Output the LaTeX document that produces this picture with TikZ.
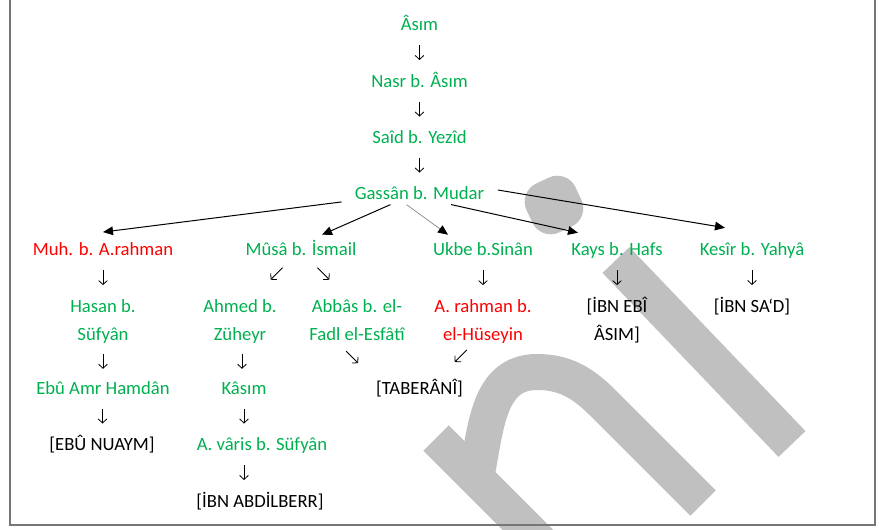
\documentclass[tikz,border=0pt]{standalone}
\usepackage{fontspec}
\setmainfont{Carlito}
\usetikzlibrary{arrows.meta,calc}
\definecolor{ravigreen}{RGB}{0,176,80}
\definecolor{ravired}{RGB}{255,0,0}
\definecolor{filigran}{RGB}{192,192,192}
\definecolor{cerceve}{RGB}{118,118,118}
\definecolor{okgri}{RGB}{130,130,130}
\newcommand{\ikisatir}[2]{\rule{0pt}{11pt}#1\\#2\rule[-2pt]{0pt}{2pt}}
\begin{document}
\begin{tikzpicture}[x=0.75pt,y=-0.75pt,
		ravi/.style={font=\fontsize{14}{21}\selectfont,inner sep=0pt,text=ravigreen},
		tek/.style={ravi,text height=11pt,text depth=2pt,anchor=base},
		iki/.style={ravi,align=center,anchor=north},
		zayif/.style={text=ravired},
		kaynak/.style={text=black},
		ok/.style={line width=0.75pt,-{Triangle[length=7.5pt,width=6.5pt]}},
		tick/.style={line width=0.6pt,-{Straight Barb[length=3pt,width=6.5pt]}},
		tickdown/.style={tick,to path={($(\tikztostart)!#1!(\tikztotarget)$) ++(0,-7.5) -- ++(0,15)}},
		tickdown/.default=0.5,
		ticksw/.style={tick,to path={($(\tikztostart)!#1!(\tikztotarget)$) ++(6,-6) -- ++(-12,12)}},
		ticksw/.default=0.5,
		tickse/.style={tick,to path={($(\tikztostart)!#1!(\tikztotarget)$) ++(-6,-6) -- ++(12,12)}},
		tickse/.default=0.5]
	\useasboundingbox (0,0) rectangle (879,529);
	\begin{scope}
		\clip (0,0) rectangle (879,529);
		\fill[filigran,rounded corners=15pt,rotate around={25:(554,205)}] (527,178) rectangle (581,232);
		\draw[filigran,line width=28pt] (616,260) -- (792,444);
		\draw[filigran,line width=27pt] (436,438) -- (560,562);
		\draw[filigran,line width=27pt] (476,478) .. controls (486,430) and (487,372) .. (537,372) .. controls (565,372) and (583,383) .. (603,403) -- (703,503);
	\end{scope}
	\draw[cerceve,line width=1.1pt] (10,0) -- (10,525) -- (875,525) -- (875,0);
	
	\node[tek] (asim) at (419.5,30) {Âsım};
	\node[tek] (nasr) at (419.5,87) {Nasr b. Âsım};
	\node[tek] (said) at (419.5,143) {Saîd b. Yezîd};
	\node[tek] (gassan) at (419.5,199) {Gassân b. Mudar};
	\node[tek,zayif] (muh) at (103,255) {Muh. b. A.rahman};
	\node[tek] (musa) at (301,255) {Mûsâ b. İsmail};
	\node[tek] (ukbe) at (483,255) {Ukbe b.Sinân};
	\node[tek] (kays) at (617,255) {Kays b. Hafs};
	\node[tek] (kesir) at (752,255) {Kesîr b. Yahyâ};
	\node[iki] (hasan) at (103,297.3) {\ikisatir{Hasan b.}{Süfyân}};
	\node[iki] (ahmed) at (240,297.3) {\ikisatir{Ahmed b.}{Züheyr}};
	\node[iki] (abbas) at (357,297.3) {\ikisatir{Abbâs b. el-}{Fadl el-Esfâtî}};
	\node[iki,zayif] (arahman) at (483,297.3) {\ikisatir{A. rahman b.}{el-Hüseyin}};
	\node[iki,kaynak] (ibnebiasim) at (617,297.3) {\ikisatir{[İBN EBÎ}{ÂSIM]}};
	\node[tek,kaynak] (ibnsad) at (752,312) {[İBN SA‘D]};
	\node[tek] (hamdan) at (103,394) {Ebû Amr Hamdân};
	\node[tek] (kasim) at (244,394) {Kâsım};
	\node[tek,kaynak] (taberani) at (419.5,394) {[TABERÂNÎ]};
	\node[tek,kaynak] (ebunuaym) at (102,450) {[EBÛ NUAYM]};
	\node[tek] (avaris) at (262,450) {A. vâris b. Süfyân};
	\node[tek,kaynak] (abdilberr) at (260,507) {[İBN ABDİLBERR]};
	
	\draw[ok] ([xshift=-9.75pt]gassan.south west) -- ([yshift=6pt]muh.north);
	\draw[ok] ([xshift=27pt,yshift=-2pt]gassan.south west) -- ([xshift=15.75pt,yshift=4pt]musa.north);
	\draw[okgri,line width=0.5pt,-{Triangle[length=7.5pt,width=6.5pt,color=black]}] ([xshift=39pt,yshift=-2pt]gassan.south west) -- ([xshift=-26.25pt,yshift=4pt]ukbe.north);
	\draw[ok] ([xshift=-25pt,yshift=-2pt]gassan.south east) -- ([xshift=-29.25pt,yshift=5.5pt]kays.north);
	\draw[ok] ([xshift=10pt,yshift=2.25pt]gassan.east) -- ([xshift=-20.25pt,yshift=9.25pt]kesir.north);
	
	\draw[tickdown] (asim.south) to (nasr.north);
	\draw[tickdown] (nasr.south) to (said.north);
	\draw[tickdown] (said.south) to (gassan.north);
	\draw[tickdown] (muh.south) to (hasan.north);
	\draw[ticksw=0.4] (musa.south) to (ahmed.north);
	\draw[tickse=0.4] (musa.south) to (abbas.north);
	\draw[tickdown] (ukbe.south) to (arahman.north);
	\draw[tickdown] (kays.south) to (ibnebiasim.north);
	\draw[tickdown] (kesir.south) to (ibnsad.north);
	\draw[tickdown] (hasan.south) to (hamdan.north);
	\draw[tickdown] (ahmed.south) to (kasim.north);
	\draw[tickse=0.39] (abbas.south west) to (taberani.north);
	\draw[ticksw=0.35] (arahman.south) to (taberani.north);
	\draw[tickdown] (hamdan.south) to (ebunuaym.north);
	\draw[tickdown] (kasim.south) to (kasim.south |- avaris.north);
	\draw[tickdown] (avaris.south -| kasim) to (abdilberr.north -| kasim);
\end{tikzpicture}
\end{document}
